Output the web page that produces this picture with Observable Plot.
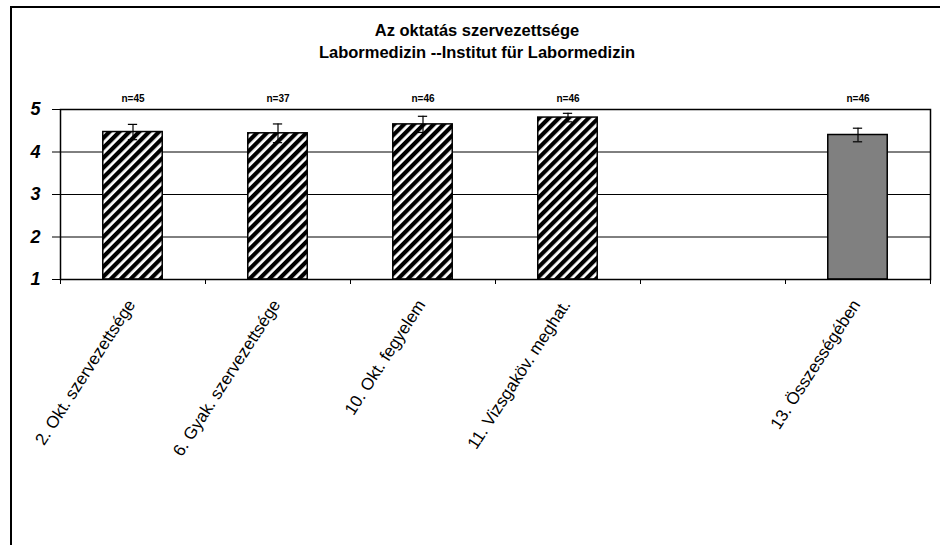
<!DOCTYPE html>
<html>
<head>
<meta charset="utf-8">
<script src="https://cdn.jsdelivr.net/npm/d3@7"></script>
<script src="https://cdn.jsdelivr.net/npm/@observablehq/plot@0.6"></script>
<style>
  html, body { margin: 0; padding: 0; background: #fff; }
  #wrap { position: relative; width: 940px; height: 545px; overflow: hidden; background: #fff; font-family: "Liberation Sans", Arial, sans-serif; }
  #frame { position: absolute; left: 10px; top: 6px; width: 1000px; height: 1000px; border-left: 2px solid #000; border-top: 2px solid #000; }
  #title { position: absolute; left: 11px; width: 932px; top: 19px; text-align: center; font-weight: bold; font-size: 16.5px; line-height: 22px; color: #000; }
  #chart { position: absolute; left: 0; top: 80px; }
</style>
</head>
<body>
<div id="wrap">
  <div id="frame"></div>
  <div id="title">Az oktatás szervezettsége<br>Labormedizin --Institut für Labormedizin</div>
  <div id="chart"></div>
</div>
<script>
// ---- data ----
const categories = ["2. Okt. szervezettsége", "6. Gyak. szervezettsége", "10. Okt. fegyelem", "11. Vizsgaköv. meghat.", "", "13. Összességében"];
const means  = [4.47, 4.44, 4.65, 4.81, null, 4.40];
const errors = [0.18, 0.22, 0.19, 0.10, null, 0.16];
const counts = [45, 37, 46, 46, null, 46];
const totalFlags = [false, false, false, false, false, true];
const yTicks = [1, 2, 3, 4, 5];

const rows = categories.map((c, i) => ({slot: i, cat: c, mean: means[i], err: errors[i], n: counts[i], total: totalFlags[i]}))
  .filter(d => d.mean != null);
const bounds = d3.range(categories.length + 1);

const half = 0.205;   // half bar width in slot units
const cap = 0.032;    // half cap width
const ctr = d => d.slot + 0.5;

const svg = Plot.plot({
  width: 940,
  height: 465,
  marginLeft: 60,
  marginRight: 10,
  marginTop: 29,
  marginBottom: 266,
  style: {fontFamily: "'Liberation Sans', Arial, sans-serif", color: "#000", background: "transparent"},
  x: {domain: [0, categories.length], axis: null},
  y: {domain: [1, 5], axis: null},
  marks: [
    Plot.gridY([2, 3, 4], {stroke: "#000", strokeOpacity: 1, strokeWidth: 1}),
    Plot.rectY(rows.filter(d => !d.total), {x1: d => d.slot + 0.5 - half, x2: d => d.slot + 0.5 + half, y1: 1, y2: "mean", fill: "url(#hatch)", stroke: "#000", strokeWidth: 1.5}),
    Plot.rectY(rows.filter(d => d.total), {x1: d => d.slot + 0.5 - half, x2: d => d.slot + 0.5 + half, y1: 1, y2: "mean", fill: "#808080", stroke: "#000", strokeWidth: 1.5}),
    Plot.ruleX(rows, {x: ctr, y1: d => d.mean - d.err, y2: d => d.mean + d.err, stroke: "#000", strokeWidth: 1.2}),
    Plot.ruleY(rows, {x1: d => ctr(d) - cap, x2: d => ctr(d) + cap, y: d => d.mean + d.err, stroke: "#000", strokeWidth: 1.2}),
    Plot.ruleY(rows, {x1: d => ctr(d) - cap, x2: d => ctr(d) + cap, y: d => d.mean - d.err, stroke: "#000", strokeWidth: 1.2}),
    Plot.frame({stroke: "#000", strokeWidth: 1.5}),
    Plot.axisY({ticks: yTicks, tickFormat: d => String(d), label: null, tickSize: 8, tickPadding: 12, fontSize: 18, fontWeight: "bold", fontStyle: "italic", stroke: "#000", fill: "#000"}),
    Plot.axisX({ticks: bounds, tickSize: 5, tickFormat: () => "", label: null, stroke: "#000"}),
    Plot.text(rows, {x: ctr, text: d => "n=" + d.n, frameAnchor: "top", dy: -15, fontSize: 10, fontWeight: "bold", fill: "#000"}),
    Plot.text(rows, {x: ctr, text: "cat", frameAnchor: "bottom", rotate: -57, textAnchor: "end", dx: 3, dy: 25, fontSize: 17, fill: "#000"})
  ]
});

// hatch pattern definition
const ns = "http://www.w3.org/2000/svg";
const defs = document.createElementNS(ns, "defs");
const pat = document.createElementNS(ns, "pattern");
pat.setAttribute("id", "hatch");
pat.setAttribute("patternUnits", "userSpaceOnUse");
pat.setAttribute("width", "7");
pat.setAttribute("height", "7");
pat.setAttribute("patternTransform", "rotate(45)");
const bg = document.createElementNS(ns, "rect");
bg.setAttribute("width", "7"); bg.setAttribute("height", "7"); bg.setAttribute("fill", "#fff");
const st = document.createElementNS(ns, "rect");
st.setAttribute("width", "4.2"); st.setAttribute("height", "7"); st.setAttribute("fill", "#000");
pat.appendChild(bg); pat.appendChild(st);
defs.appendChild(pat);
svg.insertBefore(defs, svg.firstChild);

document.getElementById("chart").appendChild(svg);
</script>
</body>
</html>
